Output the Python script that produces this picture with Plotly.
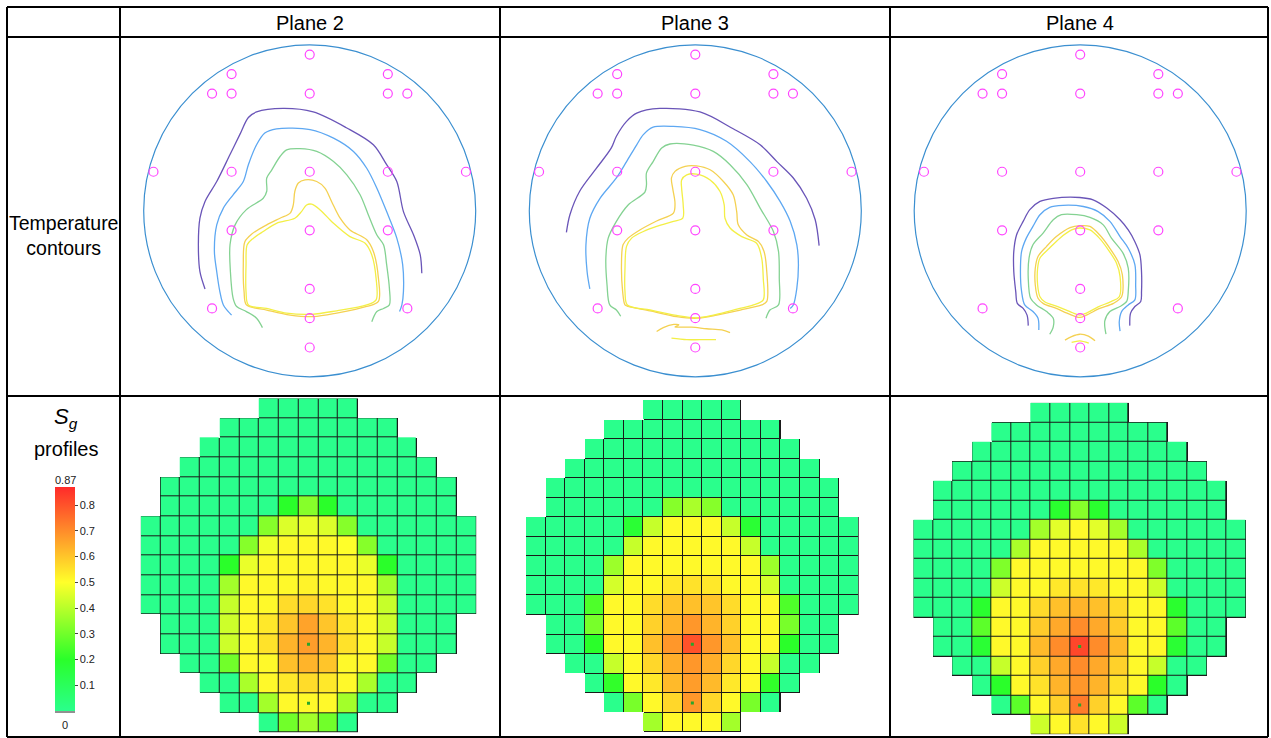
import plotly.graph_objects as go

W, H = 1271, 738

PLANES = ["Plane 2", "Plane 3", "Plane 4"]

# ---------------- thermocouple layout (grid units, vessel radius 4.25) ----------------
VESSEL_R = 4.25
TC_X = [0, -2, 2, -2.5, -2, 0, 2, 2.5, -4, -2, 0, 2, 4, -2, 0, 2, 0, -2.5, 2.5, 0, 0]
TC_Y = [4, 3.5, 3.5, 3, 3, 3, 3, 3, 1, 1, 1, 1, 1, -0.5, -0.5, -0.5, -2, -2.5, -2.5, -2.75, -3.5]

# ---------------- isotherms per plane: lists of (x, y) ----------------
ISO_P2 = {
    "T1": [(-2.68, -2.00), (-2.81, -1.56), (-2.85, -0.87), (-2.81, -0.19), (-2.68, 0.24), (-2.38, 0.75),
           (-2.04, 1.44), (-1.79, 1.95), (-1.57, 2.39), (-1.36, 2.53), (-0.68, 2.62), (0.09, 2.53),
           (0.95, 2.12), (1.63, 1.69), (1.97, 1.18), (2.23, 0.75), (2.40, -0.02), (2.66, -0.62),
           (2.83, -1.13), (2.87, -1.60)],
    "T2": [(-2.00, -2.67), (-2.21, -2.41), (-2.30, -2.07), (-2.38, -1.56), (-2.44, -1.04), (-2.38, -0.36),
           (-2.21, 0.07), (-1.96, 0.41), (-1.70, 0.75), (-1.57, 1.18), (-1.36, 1.69), (-1.15, 1.99),
           (-0.85, 2.10), (0.01, 2.08), (0.61, 1.86), (1.12, 1.52), (1.46, 1.09), (1.72, 0.58),
           (1.97, -0.02), (2.23, -0.70), (2.38, -1.38), (2.40, -2.07), (2.36, -2.41), (2.30, -2.58)],
    "T3": [(-1.21, -2.99), (-1.36, -2.75), (-1.62, -2.58), (-1.87, -2.45), (-1.96, -2.24), (-2.03, -1.56),
           (-2.04, -0.87), (-1.91, -0.36), (-1.62, 0.03), (-1.19, 0.32), (-1.10, 0.50), (-1.10, 0.84),
           (-0.97, 1.05), (-0.76, 1.39), (-0.59, 1.56), (-0.25, 1.59), (0.18, 1.52), (0.61, 1.26),
           (0.95, 0.92), (1.29, 0.41), (1.50, -0.10), (1.72, -0.62), (1.89, -0.87), (1.97, -1.38),
           (2.04, -1.98), (2.04, -2.41), (1.89, -2.50), (1.72, -2.58), (1.59, -2.84)],
    "T4": [(-1.62, -2.41), (-1.68, -2.07), (-1.70, -1.38), (-1.66, -0.79), (-1.49, -0.60), (-1.10, -0.36),
           (-0.76, -0.19), (-0.50, -0.06), (-0.42, 0.15), (-0.38, 0.50), (-0.29, 0.71), (-0.12, 0.79),
           (0.18, 0.75), (0.39, 0.58), (0.56, 0.24), (0.78, -0.19), (1.03, -0.49), (1.46, -0.74),
           (1.63, -1.04), (1.76, -1.73), (1.76, -2.32), (1.46, -2.45), (0.69, -2.62), (0.09, -2.71),
           (-0.50, -2.67), (-1.10, -2.54), (-1.62, -2.41)],
    "T5": [(-1.57, -2.41), (-1.63, -2.07), (-1.63, -1.38), (-1.60, -0.87), (-1.44, -0.70), (-1.19, -0.53),
           (-0.85, -0.32), (-0.38, -0.19), (-0.21, -0.02), (-0.08, 0.15), (0.05, 0.17), (0.26, 0.03),
           (0.61, -0.32), (1.03, -0.66), (1.42, -0.83), (1.59, -1.13), (1.70, -1.73), (1.70, -2.28),
           (1.46, -2.41), (0.69, -2.56), (0.05, -2.65), (-0.59, -2.62), (-1.10, -2.50), (-1.57, -2.41)],
}

ISO_P3 = {
    "T1": [(-3.30, -0.55), (-3.21, -0.10), (-2.96, 0.50), (-2.53, 1.09), (-2.15, 1.61), (-2.02, 1.91),
           (-1.76, 2.29), (-1.50, 2.50), (-0.91, 2.62), (0.12, 2.53), (0.97, 2.10), (1.66, 1.69),
           (2.09, 1.26), (2.51, 0.84), (2.85, 0.32), (3.07, -0.23), (3.17, -0.89)],
    "T2": [(-2.70, -2.00), (-2.77, -1.56), (-2.80, -0.87), (-2.70, -0.19), (-2.44, 0.32), (-2.02, 0.84),
           (-1.76, 1.26), (-1.50, 1.69), (-1.33, 1.95), (-1.08, 2.14), (-0.56, 2.16), (0.12, 2.08),
           (0.80, 1.78), (1.40, 1.26), (1.83, 0.75), (2.17, 0.24), (2.43, -0.27), (2.60, -0.87),
           (2.64, -1.38), (2.60, -1.98), (2.51, -2.41), (2.43, -2.50)],
    "T3": [(-1.91, -2.70), (-2.02, -2.54), (-2.19, -2.41), (-2.26, -1.90), (-2.29, -1.21), (-2.23, -0.70),
           (-2.02, -0.27), (-1.72, 0.15), (-1.29, 0.48), (-1.25, 0.67), (-1.25, 0.97), (-1.08, 1.26),
           (-0.86, 1.61), (-0.65, 1.71), (-0.05, 1.68), (0.46, 1.52), (0.89, 1.18), (1.32, 0.67),
           (1.66, 0.07), (2.00, -0.53), (2.13, -1.04), (2.15, -1.73), (2.13, -2.41), (1.91, -2.54),
           (1.81, -2.75)],
    "T4": [(-1.80, -2.41), (-1.86, -2.07), (-1.89, -1.38), (-1.85, -0.87), (-1.72, -0.70), (-1.42, -0.49),
           (-0.99, -0.26), (-0.56, -0.06), (-0.52, 0.20), (-0.58, 0.58), (-0.61, 0.84), (-0.52, 1.01),
           (-0.26, 1.14), (0.03, 1.15), (0.38, 1.05), (0.72, 0.75), (0.97, 0.41), (1.06, -0.02),
           (1.10, -0.36), (1.32, -0.62), (1.62, -0.79), (1.76, -1.04), (1.83, -1.56), (1.83, -2.32),
           (1.70, -2.41), (1.15, -2.54), (0.55, -2.67), (0.03, -2.75), (-0.48, -2.71), (-1.16, -2.56),
           (-1.72, -2.45), (-1.80, -2.41)],
    "T4b": [(-0.99, -3.09), (-0.82, -2.99), (-0.55, -2.91), (-0.42, -2.92), (-0.52, -2.97), (-0.35, -2.98),
            (-0.09, -2.98), (0.29, -3.02), (0.68, -3.05), (0.89, -3.12)],
    "T5": [(-1.74, -2.41), (-1.80, -2.07), (-1.80, -1.47), (-1.76, -0.91), (-1.63, -0.70), (-1.33, -0.53),
           (-0.99, -0.40), (-0.56, -0.27), (-0.32, -0.19), (-0.31, 0.15), (-0.35, 0.58), (-0.35, 0.79),
           (-0.22, 0.92), (0.03, 0.94), (0.38, 0.79), (0.63, 0.50), (0.74, 0.15), (0.76, -0.19),
           (0.89, -0.44), (1.19, -0.66), (1.57, -0.83), (1.70, -1.21), (1.74, -1.73), (1.74, -2.28),
           (1.49, -2.41), (0.97, -2.54), (0.46, -2.67), (0.03, -2.74), (-0.48, -2.68), (-1.16, -2.54),
           (-1.74, -2.41)],
    "T5b": [(-0.61, -3.26), (-0.22, -3.30), (0.12, -3.30), (0.53, -3.30)],
}

ISO_P4 = {
    "T1": [(-1.33, -2.94), (-1.36, -2.67), (-1.46, -2.50), (-1.61, -2.37), (-1.65, -2.07), (-1.70, -1.56),
           (-1.70, -1.04), (-1.63, -0.62), (-1.46, -0.27), (-1.29, 0.03), (-1.03, 0.24), (-0.69, 0.32),
           (-0.01, 0.34), (0.33, 0.28), (0.68, 0.07), (1.02, -0.23), (1.23, -0.49), (1.40, -0.79),
           (1.53, -1.13), (1.57, -1.56), (1.57, -2.07), (1.55, -2.32), (1.40, -2.45), (1.29, -2.62),
           (1.27, -2.94)],
    "T2": [(-1.06, -3.05), (-1.08, -2.75), (-1.21, -2.58), (-1.42, -2.41), (-1.50, -2.07), (-1.53, -1.56),
           (-1.50, -1.04), (-1.38, -0.70), (-1.21, -0.40), (-1.03, -0.10), (-0.78, 0.09), (-0.44, 0.14),
           (0.08, 0.11), (0.46, -0.02), (0.76, -0.27), (1.02, -0.66), (1.23, -0.96), (1.40, -1.38),
           (1.42, -1.90), (1.40, -2.28), (1.23, -2.41), (1.06, -2.58), (1.00, -2.84), (1.02, -3.08)],
    "T3": [(-0.78, -3.16), (-0.69, -2.97), (-0.69, -2.75), (-0.86, -2.58), (-1.12, -2.41), (-1.27, -2.24),
           (-1.33, -1.73), (-1.31, -1.21), (-1.21, -0.87), (-0.95, -0.57), (-0.69, -0.23), (-0.48, -0.10),
           (-0.09, -0.10), (0.25, -0.17), (0.59, -0.36), (0.80, -0.70), (1.10, -1.09), (1.23, -1.47),
           (1.23, -2.07), (1.19, -2.32), (1.02, -2.45), (0.76, -2.58), (0.63, -2.82), (0.66, -3.16)],
    "T4": [(-1.08, -2.24), (-1.15, -1.90), (-1.15, -1.47), (-1.08, -1.17), (-0.86, -0.91), (-0.61, -0.66),
           (-0.26, -0.43), (-0.01, -0.38), (0.25, -0.40), (0.50, -0.62), (0.76, -0.96), (0.97, -1.30),
           (1.08, -1.64), (1.06, -2.20), (0.85, -2.37), (0.50, -2.50), (0.16, -2.67), (-0.01, -2.73),
           (-0.26, -2.65), (-0.61, -2.50), (-0.95, -2.37), (-1.08, -2.24)],
    "T4b": [(-0.39, -3.31), (-0.22, -3.22), (-0.01, -3.16), (0.21, -3.21), (0.38, -3.33)],
    "T5": [(-1.03, -2.20), (-1.09, -1.90), (-1.09, -1.47), (-1.03, -1.21), (-0.79, -0.96), (-0.52, -0.70),
           (-0.22, -0.49), (-0.01, -0.44), (0.25, -0.49), (0.49, -0.70), (0.72, -1.00), (0.93, -1.34),
           (1.02, -1.68), (1.00, -2.20), (0.80, -2.32), (0.46, -2.46), (0.16, -2.62), (-0.01, -2.67),
           (-0.22, -2.60), (-0.56, -2.46), (-0.91, -2.33), (-1.03, -2.20)],
    "T5b": [(-0.22, -3.37), (-0.01, -3.33), (0.22, -3.39)],
}

ISO_COLORS = {"T1": "#6a55b8", "T2": "#5ea8f2", "T3": "#84d292", "T4": "#f4d152",
              "T4b": "#f4d152", "T5": "#f3ef46", "T5b": "#f3ef46"}

# ---------------- gas saturation per cell (17 x 17 grid, rows top to bottom) ----------------
SG_P2 = [
    [0, 0, 0, 0, 0],
    [0] * 9,
    [0] * 11,
    [0] * 13,
    [0] * 15,
    [0, 0, 0, 0, 0, 0, .20, .33, .20, 0, 0, 0, 0, 0, 0],
    [0, 0, 0, 0, 0, 0, .33, .45, .47, .45, .33, 0, 0, 0, 0, 0, 0],
    [0, 0, 0, 0, 0, .33, .48, .51, .51, .51, .50, .33, 0, 0, 0, 0, 0],
    [0, 0, 0, 0, .20, .47, .51, .51, .51, .51, .51, .47, .20, 0, 0, 0, 0],
    [0, 0, 0, 0, .37, .51, .51, .51, .52, .51, .51, .51, .37, 0, 0, 0, 0],
    [0, 0, 0, 0, .42, .51, .51, .56, .57, .55, .51, .51, .42, 0, 0, 0, 0],
    [0, 0, 0, .43, .51, .54, .60, .66, .60, .54, .51, .43, 0, 0, 0],
    [0, 0, 0, .43, .51, .55, .63, .67, .63, .55, .51, .42, 0, 0, 0],
    [0, 0, .30, .51, .51, .61, .63, .60, .51, .51, .30, 0, 0],
    [0, 0, .38, .51, .54, .56, .54, .51, .38, 0, 0],
    [0, 0, .37, .51, .51, .51, .37, 0, 0],
    [0, .30, .37, .30, 0],
]

SG_P3 = [
    [0, 0, 0, 0, 0],
    [0] * 9,
    [0] * 11,
    [0] * 13,
    [0] * 15,
    [0, 0, 0, 0, 0, 0, .33, .38, .33, 0, 0, 0, 0, 0, 0],
    [0, 0, 0, 0, 0, .18, .42, .51, .51, .51, .42, .18, 0, 0, 0, 0, 0],
    [0, 0, 0, 0, 0, .42, .51, .51, .51, .51, .51, .42, 0, 0, 0, 0, 0],
    [0, 0, 0, 0, .36, .51, .51, .51, .51, .51, .51, .51, .36, 0, 0, 0, 0],
    [0, 0, 0, 0, .44, .51, .51, .54, .55, .54, .51, .51, .44, 0, 0, 0, 0],
    [0, 0, 0, .25, .51, .51, .56, .60, .61, .60, .56, .51, .51, .25, 0, 0, 0],
    [0, 0, .31, .51, .51, .58, .63, .68, .63, .58, .51, .51, .31, 0, 0],
    [0, 0, .20, .51, .51, .61, .68, .80, .68, .61, .51, .51, .20, 0, 0],
    [0, 0, .42, .51, .57, .64, .68, .64, .57, .51, .42, 0, 0],
    [0, .21, .51, .54, .62, .67, .62, .54, .51, .21, 0],
    [0, .31, .51, .57, .68, .57, .51, .31, 0],
    [.37, .51, .51, .51, .37],
]

SG_P4 = [
    [0, 0, 0, 0, 0],
    [0] * 9,
    [0] * 11,
    [0] * 13,
    [0] * 15,
    [0, 0, 0, 0, 0, 0, .19, .33, .19, 0, 0, 0, 0, 0, 0],
    [0, 0, 0, 0, 0, 0, .37, .46, .51, .46, .37, 0, 0, 0, 0, 0, 0],
    [0, 0, 0, 0, 0, .38, .51, .51, .51, .51, .51, .38, 0, 0, 0, 0, 0],
    [0, 0, 0, 0, .32, .51, .51, .51, .51, .51, .51, .51, .32, 0, 0, 0, 0],
    [0, 0, 0, 0, .43, .51, .51, .54, .55, .54, .51, .51, .43, 0, 0, 0, 0],
    [0, 0, 0, .19, .51, .51, .565, .61, .63, .61, .565, .51, .51, .19, 0, 0, 0],
    [0, 0, .27, .51, .51, .59, .65, .70, .65, .59, .51, .51, .27, 0, 0],
    [0, 0, .18, .51, .51, .62, .70, .82, .70, .62, .51, .51, .18, 0, 0],
    [0, 0, .42, .51, .58, .65, .70, .65, .58, .51, .42, 0, 0],
    [0, .20, .51, .55, .63, .68, .63, .55, .51, .20, 0],
    [0, .27, .51, .58, .73, .58, .51, .27, 0],
    [.43, .51, .55, .51, .43],
]

# probe cells (column, row) marked inside the saturation grid
PROBE_COL = [8, 8]
PROBE_ROW = [12, 15]

SG_MAX = 0.87
CBAR_TICKS = [0.1, 0.2, 0.3, 0.4, 0.5, 0.6, 0.7, 0.8]

N = 17


def to_grid(rows):
    """Centre each row's cells in a 17-wide grid, None outside the vessel."""
    grid = []
    for r in rows:
        start = (N - len(r)) // 2
        grid.append([None] * start + list(r) + [None] * (N - start - len(r)))
    return grid


def mask_of(rows):
    return [[None if v is None else 1 for v in row] for row in to_grid(rows)]


def fx(p):
    return p / W


def fy(p):
    return 1 - p / H


fig = go.Figure()

FONT = "Liberation Sans, Arial, Helvetica, sans-serif"

# ---------- contour panels ----------
centers_x = [309.7, 695.3, 1080.2]
center_y = 210.8
half = 175.0
scale = 166.0 / VESSEL_R          # px per grid unit
rng = half / scale

layout_axes = {}
shapes = []
iso_sets = [ISO_P2, ISO_P3, ISO_P4]
for i, (cx, iso) in enumerate(zip(centers_x, iso_sets)):
    k = i + 1
    xa, ya = f"x{k}", f"y{k}"
    layout_axes[f"xaxis{k}"] = dict(domain=[fx(cx - half), fx(cx + half)], range=[-rng, rng],
                                    visible=False, fixedrange=True)
    layout_axes[f"yaxis{k}"] = dict(domain=[fy(center_y + half), fy(center_y - half)], range=[-rng, rng],
                                    visible=False, fixedrange=True)
    shapes.append(dict(type="circle", xref=xa, yref=ya, x0=-VESSEL_R, x1=VESSEL_R,
                       y0=-VESSEL_R, y1=VESSEL_R, line=dict(color="#3b8fd0", width=1.2), layer="below"))
    for name, pts in iso.items():
        fig.add_trace(go.Scatter(
            x=[p[0] for p in pts], y=[p[1] for p in pts], mode="lines", xaxis=xa, yaxis=ya,
            line=dict(color=ISO_COLORS[name], width=1.3, shape="spline", smoothing=0.9),
            hoverinfo="skip", showlegend=False))
    fig.add_trace(go.Scatter(
        x=TC_X, y=TC_Y, mode="markers", xaxis=xa, yaxis=ya,
        marker=dict(symbol="circle-open", size=9, color="#ff45ff", line=dict(width=1.2)),
        hoverinfo="skip", showlegend=False))

# ---------- saturation panels ----------
heat_boxes = [(140.7, 476.3, 398.3, 732.7), (526.0, 858.7, 400.0, 732.3), (913.3, 1246.0, 402.7, 734.3)]
sg_sets = [SG_P2, SG_P3, SG_P4]
for i, (box, sg) in enumerate(zip(heat_boxes, sg_sets)):
    k = i + 4
    xa, ya = f"x{k}", f"y{k}"
    x0, x1, y0, y1 = box
    layout_axes[f"xaxis{k}"] = dict(domain=[fx(x0), fx(x1)], range=[-0.5, N - 0.5],
                                    visible=False, fixedrange=True)
    layout_axes[f"yaxis{k}"] = dict(domain=[fy(y1), fy(y0)], range=[N - 0.5, -0.5],
                                    visible=False, fixedrange=True)
    # dark layer that shows through the gaps as cell borders
    fig.add_trace(go.Heatmap(z=mask_of(sg), xaxis=xa, yaxis=ya, showscale=False,
                             colorscale=[[0, "#1a1a1a"], [1, "#1a1a1a"]], hoverinfo="skip"))
    fig.add_trace(go.Heatmap(z=to_grid(sg), xaxis=xa, yaxis=ya, coloraxis="coloraxis",
                             xgap=1, ygap=1, hoverinfo="skip"))
    fig.add_trace(go.Scatter(x=PROBE_COL, y=PROBE_ROW, mode="markers", xaxis=xa, yaxis=ya,
                             marker=dict(symbol="square", size=3, color="#2aa62a"),
                             hoverinfo="skip", showlegend=False))

# ---------- table frame ----------
LINE = dict(color="black", width=2)
for xv in [7, 120, 500, 890, 1268]:
    shapes.append(dict(type="line", xref="paper", yref="paper", x0=fx(xv), x1=fx(xv),
                       y0=fy(737), y1=fy(7), line=LINE))
for yv in [7, 37, 396, 737]:
    shapes.append(dict(type="line", xref="paper", yref="paper", x0=fx(7), x1=fx(1268),
                       y0=fy(yv), y1=fy(yv), line=LINE))
# base line under the colour bar
shapes.append(dict(type="line", xref="paper", yref="paper", x0=fx(55), x1=fx(75),
                   y0=fy(712), y1=fy(712), line=dict(color="#222", width=1)))

annotations = []
for name, cx in zip(PLANES, [310, 695, 1080]):
    annotations.append(dict(text=name, x=fx(cx), y=fy(23), xref="paper", yref="paper",
                            showarrow=False, font=dict(size=20, color="black", family=FONT),
                            xanchor="center", yanchor="middle"))
annotations.append(dict(text="Temperature<br>contours", x=fx(63.5), y=fy(235.5), xref="paper",
                        yref="paper", showarrow=False, align="center",
                        font=dict(size=19.5, color="black", family=FONT),
                        xanchor="center", yanchor="middle"))
annotations.append(dict(text="<i>S<sub>g</sub></i>", x=fx(66), y=fy(418), xref="paper", yref="paper",
                        showarrow=False, font=dict(size=22, color="black", family=FONT),
                        xanchor="center", yanchor="middle"))
annotations.append(dict(text="profiles", x=fx(66), y=fy(449), xref="paper", yref="paper",
                        showarrow=False, font=dict(size=20, color="black", family=FONT),
                        xanchor="center", yanchor="middle"))
annotations.append(dict(text=f"{SG_MAX:g}", x=fx(65), y=fy(480), xref="paper", yref="paper",
                        showarrow=False, font=dict(size=11, color="#222", family=FONT),
                        xanchor="center", yanchor="middle"))
annotations.append(dict(text="0", x=fx(65), y=fy(725), xref="paper", yref="paper",
                        showarrow=False, font=dict(size=11, color="#222", family=FONT),
                        xanchor="center", yanchor="middle"))

fig.update_layout(
    width=W, height=H, margin=dict(l=0, r=0, t=0, b=0),
    paper_bgcolor="white", plot_bgcolor="rgba(0,0,0,0)",
    showlegend=False, shapes=shapes, annotations=annotations,
    coloraxis=dict(
        cmin=0, cmax=SG_MAX,
        colorscale=[[0.0, "rgb(42,255,140)"], [0.2 / SG_MAX, "rgb(42,255,42)"],
                    [0.5 / SG_MAX, "rgb(255,255,42)"], [1.0, "rgb(255,42,42)"]],
        colorbar=dict(x=fx(55), xanchor="left", xpad=0, ypad=0, thickness=20, thicknessmode="pixels",
                      len=224, lenmode="pixels", y=fy(599), yanchor="middle", outlinewidth=0,
                      tickvals=CBAR_TICKS, ticktext=[f"{t:.1f}" for t in CBAR_TICKS],
                      ticks="outside", ticklen=3, tickcolor="#444",
                      tickfont=dict(size=11, color="#222", family=FONT)),
    ),
    **layout_axes,
)

fig.write_html("out.html")
